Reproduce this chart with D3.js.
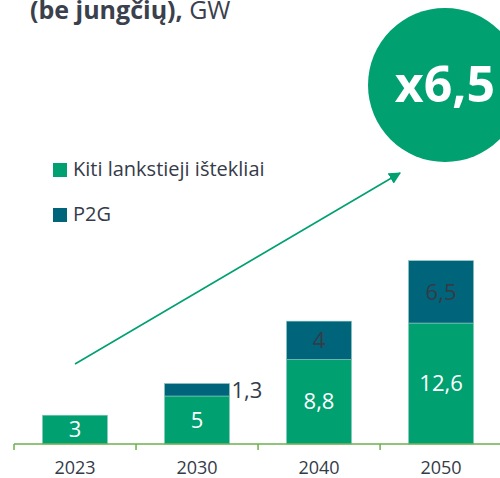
<!DOCTYPE html>
<html>
<head>
<meta charset="utf-8">
<script src="https://cdn.jsdelivr.net/npm/d3@7"></script>
<style>
  body { margin: 0; background: #fff; }
  svg { display: block; font-family: "Open Sans", sans-serif; }
</style>
</head>
<body>
<svg id="chart" width="500" height="478"></svg>
<script>
// data
const years = ["2023", "2030", "2040", "2050"];
const kiti = [3, 5, 8.8, 12.6];
const p2g = [0, 1.3, 4, 6.5];
const seriesNames = ["Kiti lankstieji ištekliai", "P2G"];
const growthLabel = "x6,5";

const green = "#00a070", teal = "#00657a", ink = "#353b48";
const fmt = v => String(v).replace(".", ",");

const svg = d3.select("#chart");
const baseY = 444;

const x = d3.scaleBand().domain(years).range([14, 502]).paddingInner(0.467).paddingOuter(0.233);
const y = d3.scaleLinear().domain([0, 20]).range([baseY, 252]);

const rows = years.map((yr, i) => ({ year: yr, kiti: kiti[i], p2g: p2g[i] }));
const stacked = d3.stack().keys(["kiti", "p2g"])(rows);
const color = d3.scaleOrdinal().domain(["kiti", "p2g"]).range([green, teal]);

// title (cut at the top)
svg.append("text")
  .attr("x", 30).attr("y", 19)
  .style("font-size", "25px").style("fill", "#3a404c")
  .call(t => {
    t.append("tspan").style("font-weight", "bold").text("(be jungčių),");
    t.append("tspan").text(" GW");
  });

// bars
const layer = svg.selectAll(".layer").data(stacked).enter().append("g")
  .attr("fill", d => color(d.key));

layer.selectAll("rect").data(d => d.filter(s => s[1] > s[0])).enter().append("rect")
  .attr("x", d => x(d.data.year))
  .attr("width", x.bandwidth())
  .attr("y", d => y(d[1]))
  .attr("height", d => y(d[0]) - y(d[1]))
  .attr("stroke", "#8fc7c0").attr("stroke-width", 0.6);

// value labels
stacked.forEach(s => {
  s.forEach(d => {
    const v = d.data[s.key];
    if (!v) return;
    const small = v < 2;
    svg.append("text")
      .attr("x", small ? x(d.data.year) + x.bandwidth() + 2 : x(d.data.year) + x.bandwidth() / 2)
      .attr("y", small ? (y(d[0]) + y(d[1])) / 2 + 1 : (y(d[0]) + y(d[1])) / 2)
      .attr("dy", "0.35em")
      .attr("text-anchor", small ? "start" : "middle")
      .style("font-size", "22px")
      .style("fill", s.key === "kiti" ? "#fff" : ink)
      .text(fmt(v));
  });
});

// axis
const axisG = svg.append("g").attr("transform", `translate(0,${baseY})`)
  .call(d3.axisBottom(x).tickSize(0).tickPadding(17));
axisG.select(".domain").remove();
axisG.selectAll("text").style("font-size", "18px").style("fill", ink).style("font-family", "Open Sans, sans-serif");

const step = x.step();
const x0 = x(years[0]) - x.paddingOuter() * step;
svg.append("line").attr("x1", x0).attr("x2", 500).attr("y1", baseY).attr("y2", baseY)
  .attr("stroke", "#6ab04c").attr("stroke-width", 1.5);
d3.range(years.length + 1).forEach(i => {
  svg.append("line").attr("x1", x0 + i * step).attr("x2", x0 + i * step)
    .attr("y1", baseY).attr("y2", baseY + 6)
    .attr("stroke", "#6ab04c").attr("stroke-width", 1.5);
});

// legend
const legend = svg.append("g").attr("transform", "translate(53,163)");
seriesNames.forEach((name, i) => {
  const g = legend.append("g").attr("transform", `translate(0,${i * 45})`);
  g.append("rect").attr("width", 14).attr("height", 14).attr("fill", [green, teal][i]);
  g.append("text").attr("x", 20).attr("y", 13)
    .style("font-size", "20px").style("fill", ink).text(name);
});

// growth arrow
svg.append("defs").append("marker")
  .attr("id", "arrow").attr("viewBox", "0 0 10 10")
  .attr("refX", 9).attr("refY", 5)
  .attr("markerWidth", 12).attr("markerHeight", 12)
  .attr("markerUnits", "userSpaceOnUse")
  .attr("orient", "auto")
  .append("path").attr("d", "M0,0 L10,5 L0,10 Z").attr("fill", green);
svg.append("line")
  .attr("x1", 75).attr("y1", 364).attr("x2", 400).attr("y2", 173)
  .attr("stroke", green).attr("stroke-width", 1.6)
  .attr("marker-end", "url(#arrow)");

// circle badge
svg.append("circle").attr("cx", 445).attr("cy", 85).attr("r", 77).attr("fill", green);
svg.append("text").attr("x", 445).attr("y", 102)
  .attr("text-anchor", "middle")
  .style("font-size", "50px").style("font-weight", "bold").style("fill", "#fff")
  .text(growthLabel);
</script>
</body>
</html>
